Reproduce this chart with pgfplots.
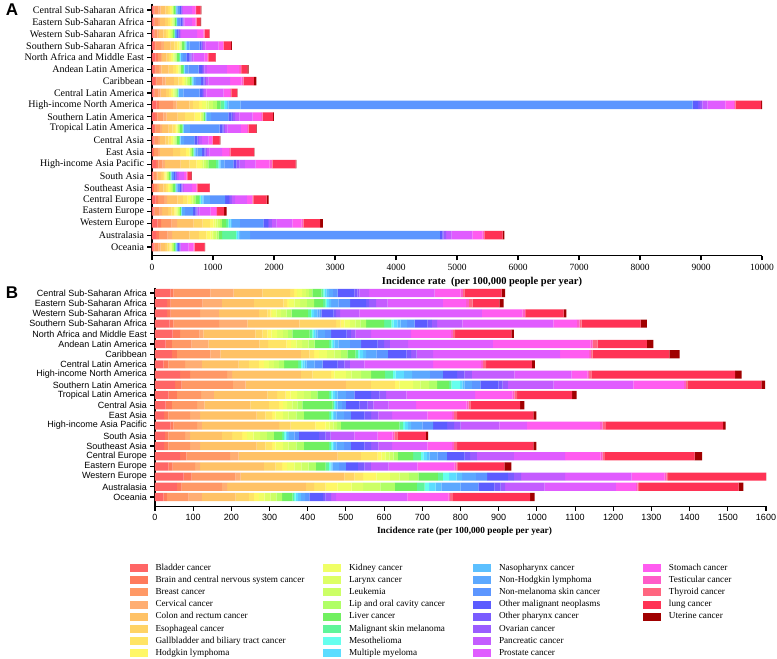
\documentclass[border=0pt]{standalone}
\usepackage{fontspec}
\setmainfont{Liberation Serif}
\newfontfamily\arialfont{Liberation Sans}
\usepackage{pgfplots}
\usepackage{pgfplotstable}
\pgfplotsset{compat=1.18}

\definecolor{c1}{HTML}{FF6666}
\definecolor{c2}{HTML}{FF7B5C}
\definecolor{c3}{HTML}{FF9966}
\definecolor{c4}{HTML}{FFAE73}
\definecolor{c5}{HTML}{FFC266}
\definecolor{c6}{HTML}{FFD366}
\definecolor{c7}{HTML}{FFE466}
\definecolor{c8}{HTML}{FFF766}
\definecolor{c9}{HTML}{F0FF66}
\definecolor{c10}{HTML}{DDFF66}
\definecolor{c11}{HTML}{CCFF66}
\definecolor{c12}{HTML}{B0FF66}
\definecolor{c13}{HTML}{70F060}
\definecolor{c14}{HTML}{60F59A}
\definecolor{c15}{HTML}{66FFEE}
\definecolor{c16}{HTML}{5CDDFF}
\definecolor{c17}{HTML}{5CC0FF}
\definecolor{c18}{HTML}{5CA8FF}
\definecolor{c19}{HTML}{5C96FF}
\definecolor{c20}{HTML}{5C5CFF}
\definecolor{c21}{HTML}{7A5CFF}
\definecolor{c22}{HTML}{9B5CFF}
\definecolor{c23}{HTML}{C45CFF}
\definecolor{c24}{HTML}{E05CFF}
\definecolor{c25}{HTML}{FF5CF0}
\definecolor{c26}{HTML}{FF5CC8}
\definecolor{c27}{HTML}{FF6680}
\definecolor{c28}{HTML}{FF3355}
\definecolor{c29}{HTML}{A00000}

% Panel A: columns c1..c29 = Bladder ... Uterine
\pgfplotstableread{
id c1 c2 c3 c4 c5 c6 c7 c8 c9 c10 c11 c12 c13 c14 c15 c16 c17 c18 c19 c20 c21 c22 c23 c24 c25 c26 c27 c28 c29
0 26 17 64 34 78 44 35 17 11 9 13 10 25 8 2 4 3 17 39 20 7 8 14 152 55 10 3 73 11
1 26 17 57 30 83 46 37 19 13 11 16 14 25 8 2 4 4 17 38 29 9 9 16 127 60 11 3 62 11
2 26 17 46 25 73 41 33 16 18 14 21 18 16 5 2 5 4 13 20 24 8 12 21 260 105 15 3 79 5
3 36 24 88 47 110 61 49 25 13 11 16 14 38 16 6 11 11 40 166 28 10 19 35 217 70 12 4 121 11
4 60 38 46 24 73 41 33 16 18 18 18 17 40 14 4 9 9 27 60 49 16 19 35 174 51 9 7 120 3
5 36 24 55 37 122 68 55 27 13 11 16 14 32 11 4 9 9 55 168 52 18 23 42 326 200 28 17 92 22
6 46 30 95 52 134 75 60 29 24 20 29 25 28 10 5 11 11 36 84 40 14 25 46 352 190 28 8 165 38
7 26 17 64 34 86 48 38 18 18 18 18 17 20 7 3 7 6 70 267 40 14 19 35 283 104 15 11 93 5
8 70 44 230 58 210 60 100 48 70 40 70 64 60 60 15 30 25 200 7410 90 30 40 80 296 140 18 10 416 16
9 52 35 99 53 180 120 160 94 14 12 15 13 20 7 5 6 6 80 283 53 18 38 71 216 140 24 5 168 11
10 36 24 70 38 105 59 47 23 13 11 16 14 40 14 2 5 4 100 487 49 16 23 42 217 106 19 10 115 11
11 26 17 57 30 90 50 41 20 18 18 18 17 40 14 3 6 5 55 170 40 14 25 46 109 55 10 4 110 11
12 20 13 64 33 213 118 95 47 13 11 16 14 20 7 5 11 11 33 76 40 14 25 46 205 111 20 9 380 8
13 62 42 71 38 258 143 115 57 34 27 41 35 123 41 8 15 15 62 145 41 14 48 88 177 230 40 8 377 12
14 13 9 42 23 61 34 27 14 13 11 16 14 20 7 3 7 6 11 27 28 10 15 29 81 47 8 4 66 6
15 20 13 53 28 73 41 33 16 18 14 21 18 28 10 3 7 6 16 38 20 7 13 25 136 69 12 4 203 5
16 60 40 100 50 166 92 74 37 23 18 28 23 60 22 10 22 22 100 253 61 20 29 53 191 82 15 9 219 32
17 26 17 81 44 98 55 44 21 18 16 19 17 16 6 3 7 7 50 128 41 14 19 35 178 89 15 4 116 38
18 90 60 170 93 269 149 119 60 34 27 41 34 70 38 11 22 22 130 386 73 24 42 78 258 150 26 10 272 44
19 68 46 141 76 281 156 125 63 34 27 41 33 60 228 13 26 26 163 3114 41 14 46 90 338 164 29 5 301 27
20 26 17 64 34 73 41 33 16 13 11 16 14 21 7 3 7 6 8 20 20 6 8 14 122 81 14 5 162 7
}\dataA

% Panel B
\pgfplotstableread{
id c1 c2 c3 c4 c5 c6 c7 c8 c9 c10 c11 c12 c13 c14 c15 c16 c17 c18 c19 c20 c21 c22 c23 c24 c25 c26 c27 c28 c29
0 40 8 97 61 75 73 10 8 13 10 8 9 24 5 3 5 7 10 12 44 8 5 26 171 68 6 4 98 9
1 32 9 84 50 84 77 10 5 14 15 18 19 23 7 3 6 5 19 31 42 8 18 30 145 61 7 10 70 11
2 32 9 77 49 105 22 8 5 11 12 15 13 42 8 3 6 8 6 5 32 6 11 50 321 106 7 2 99 7
3 38 10 120 74 136 96 12 10 14 15 13 15 47 19 6 10 8 17 20 33 12 14 66 238 62 7 5 155 16
4 46 20 51 10 136 18 13 11 15 15 13 12 45 7 4 4 5 20 16 41 11 12 41 105 104 5 6 147 7
5 28 16 52 44 133 23 48 12 14 15 17 16 38 6 4 4 10 30 30 43 17 15 48 222 255 6 13 129 17
6 44 13 88 26 211 22 13 13 20 20 17 17 21 6 4 10 8 27 30 48 13 14 43 333 76 5 4 201 27
7 22 13 44 44 96 27 26 13 13 13 14 13 37 7 4 6 5 21 21 39 18 14 38 180 126 5 8 120 8
8 66 26 97 13 180 30 49 9 30 15 25 26 36 21 7 22 21 47 34 37 19 20 111 150 41 5 6 376 17
9 53 17 134 33 263 65 63 12 36 19 23 21 31 6 23 6 5 20 22 47 11 14 120 209 132 5 4 194 10
10 35 22 64 33 140 26 22 13 17 18 18 17 30 6 4 7 6 22 22 44 22 17 53 180 98 5 7 144 12
11 28 16 66 19 121 48 27 10 11 14 13 13 79 4 2 3 4 12 10 35 22 15 40 72 132 5 5 130 11
12 24 11 57 26 148 23 18 9 19 15 20 20 65 6 4 4 6 20 18 35 18 19 36 92 65 5 8 200 8
13 40 8 62 13 202 30 65 27 10 10 10 10 153 10 5 8 8 29 28 37 18 17 102 72 191 7 9 307 6
14 26 9 44 13 83 27 26 13 17 17 18 18 22 5 4 4 5 14 12 53 17 13 62 61 39 5 8 74 6
15 24 11 57 26 148 23 18 9 19 15 20 20 65 6 4 4 6 20 18 35 18 19 36 92 65 5 8 200 8
16 66 16 115 22 259 61 44 10 10 11 11 11 40 20 7 9 7 21 24 47 14 18 97 134 93 5 6 235 20
17 35 11 59 13 167 31 17 13 19 18 19 19 26 8 4 3 3 17 18 31 17 17 47 75 97 5 4 122 18
18 75 21 115 13 272 26 23 35 35 25 25 25 51 13 16 20 14 36 30 54 16 19 115 174 86 5 5 256 10
19 57 13 105 14 206 22 30 31 37 30 45 38 58 20 12 17 15 50 47 42 16 12 103 187 52 5 4 260 13
20 22 9 57 35 88 35 13 13 15 15 16 15 27 4 4 7 7 11 11 36 7 14 13 187 107 5 7 202 12
}\dataB

\pgfplotsset{
  panel/.style={
    scale only axis, xbar stacked, y dir=reverse,
    ytick={0,...,20},
    yticklabels={Central Sub-Saharan Africa, Eastern Sub-Saharan Africa, Western Sub-Saharan Africa, Southern Sub-Saharan Africa, North Africa and Middle East, Andean Latin America, Caribbean, Central Latin America, High-income North America, Southern Latin America, Tropical Latin America, Central Asia, East Asia, High-income Asia Pacific, South Asia, Southeast Asia, Central Europe, Eastern Europe, Western Europe, Australasia, Oceania},
    axis x line*=bottom, axis y line*=left,
    axis line style={line width=1.1pt,-},
    tick align=outside, major tick length=4.5pt,
    tick style={line width=1.1pt,black},
    scaled x ticks=false,
    /pgf/number format/1000 sep={},
    /pgf/number format/assume math mode=true,
    xmin=0,
  }
}

\begin{document}
\begin{tikzpicture}
\path[use as bounding box] (0pt,0pt) rectangle (777pt,-659pt);

\begin{axis}[panel,
  at={(152pt,-3.5pt)}, anchor=north west, width=610pt, height=252.4pt,
  xmax=10000, ymin=-0.55, ymax=20.75, bar width=0.72,
  xtick={0,1000,...,10000},
  yticklabel style={font=\fontsize{10}{11}\selectfont},
  xticklabel style={font=\fontsize{9.5}{11}\selectfont},
  xlabel={\textbf{Incidence rate\ \ (per 100,000 people per year)}},
  xlabel style={font=\fontsize{10.5}{12}\selectfont, xshift=25pt},
]
\pgfplotsinvokeforeach{1,...,29}{
  \addplot[fill=c#1, draw=none] table[x=c#1, y=id]{\dataA};
}
\end{axis}

\begin{axis}[panel,
  at={(155pt,-287.9pt)}, anchor=north west, width=611pt, height=218.3pt,
  xmax=1600, ymin=-0.5, ymax=20.9, bar width=0.8,
  xtick={0,100,...,1600},
  yticklabel style={font=\arialfont\fontsize{9}{10}\selectfont},
  xticklabel style={font=\arialfont\fontsize{9}{10}\selectfont},
  xlabel={\textbf{Incidence rate (per 100,000 people per year)}},
  xlabel style={font=\fontsize{9.3}{10}\selectfont, xshift=4pt},
]
\pgfplotsinvokeforeach{1,...,29}{
  \addplot[fill=c#1, draw=none] table[x=c#1, y=id]{\dataB};
}
\end{axis}

\begin{axis}[at={(129.5pt,-564pt)}, anchor=north west, hide axis, scale only axis,
  width=5pt, height=5pt, xmin=0, xmax=1, ymin=0, ymax=1,
  legend columns=4,
  legend image code/.code={\path[#1] (0pt,-4pt) rectangle (18pt,4pt);},
  legend cell align=left,
  legend style={at={(0,1)}, anchor=north west, draw=none, fill=none,
    inner sep=0pt, outer sep=0pt,
    /tikz/column sep=0pt, /tikz/row sep=3.6pt,
    nodes={inner sep=0pt, text height=6.5pt, text depth=2pt, font=\fontsize{9.2}{10}\selectfont}},
]
\addlegendimage{fill=c1,draw=none}\addlegendentry{\makebox[175.5pt][l]{\hspace{8pt}Bladder cancer}}
\addlegendimage{fill=c9,draw=none}\addlegendentry{\makebox[132pt][l]{\hspace{8pt}Kidney cancer}}
\addlegendimage{fill=c17,draw=none}\addlegendentry{\makebox[152pt][l]{\hspace{8pt}Nasopharynx cancer}}
\addlegendimage{fill=c25,draw=none}\addlegendentry{\makebox[100pt][l]{\hspace{8pt}Stomach cancer}}
\addlegendimage{fill=c2,draw=none}\addlegendentry{\makebox[175.5pt][l]{\hspace{8pt}Brain and central nervous system cancer}}
\addlegendimage{fill=c10,draw=none}\addlegendentry{\makebox[132pt][l]{\hspace{8pt}Larynx cancer}}
\addlegendimage{fill=c18,draw=none}\addlegendentry{\makebox[152pt][l]{\hspace{8pt}Non-Hodgkin lymphoma}}
\addlegendimage{fill=c26,draw=none}\addlegendentry{\makebox[100pt][l]{\hspace{8pt}Testicular cancer}}
\addlegendimage{fill=c3,draw=none}\addlegendentry{\makebox[175.5pt][l]{\hspace{8pt}Breast cancer}}
\addlegendimage{fill=c11,draw=none}\addlegendentry{\makebox[132pt][l]{\hspace{8pt}Leukemia}}
\addlegendimage{fill=c19,draw=none}\addlegendentry{\makebox[152pt][l]{\hspace{8pt}Non-melanoma skin cancer}}
\addlegendimage{fill=c27,draw=none}\addlegendentry{\makebox[100pt][l]{\hspace{8pt}Thyroid cancer}}
\addlegendimage{fill=c4,draw=none}\addlegendentry{\makebox[175.5pt][l]{\hspace{8pt}Cervical cancer}}
\addlegendimage{fill=c12,draw=none}\addlegendentry{\makebox[132pt][l]{\hspace{8pt}Lip and oral cavity cancer}}
\addlegendimage{fill=c20,draw=none}\addlegendentry{\makebox[152pt][l]{\hspace{8pt}Other malignant neoplasms}}
\addlegendimage{fill=c28,draw=none}\addlegendentry{\makebox[100pt][l]{\hspace{8pt}lung cancer}}
\addlegendimage{fill=c5,draw=none}\addlegendentry{\makebox[175.5pt][l]{\hspace{8pt}Colon and rectum cancer}}
\addlegendimage{fill=c13,draw=none}\addlegendentry{\makebox[132pt][l]{\hspace{8pt}Liver cancer}}
\addlegendimage{fill=c21,draw=none}\addlegendentry{\makebox[152pt][l]{\hspace{8pt}Other pharynx cancer}}
\addlegendimage{fill=c29,draw=none}\addlegendentry{\makebox[100pt][l]{\hspace{8pt}Uterine cancer}}
\addlegendimage{fill=c6,draw=none}\addlegendentry{\makebox[175.5pt][l]{\hspace{8pt}Esophageal cancer}}
\addlegendimage{fill=c14,draw=none}\addlegendentry{\makebox[132pt][l]{\hspace{8pt}Malignant skin melanoma}}
\addlegendimage{fill=c22,draw=none}\addlegendentry{\makebox[152pt][l]{\hspace{8pt}Ovarian cancer}}
\addlegendimage{draw=none,fill=none}\addlegendentry{}
\addlegendimage{fill=c7,draw=none}\addlegendentry{\makebox[175.5pt][l]{\hspace{8pt}Gallbladder and biliary tract cancer}}
\addlegendimage{fill=c15,draw=none}\addlegendentry{\makebox[132pt][l]{\hspace{8pt}Mesothelioma}}
\addlegendimage{fill=c23,draw=none}\addlegendentry{\makebox[152pt][l]{\hspace{8pt}Pancreatic cancer}}
\addlegendimage{draw=none,fill=none}\addlegendentry{}
\addlegendimage{fill=c8,draw=none}\addlegendentry{\makebox[175.5pt][l]{\hspace{8pt}Hodgkin lymphoma}}
\addlegendimage{fill=c16,draw=none}\addlegendentry{\makebox[132pt][l]{\hspace{8pt}Multiple myeloma}}
\addlegendimage{fill=c24,draw=none}\addlegendentry{\makebox[152pt][l]{\hspace{8pt}Prostate cancer}}
\end{axis}

\node[font=\arialfont\bfseries\fontsize{17}{17}\selectfont] at (12pt,-10pt) {A};
\node[font=\arialfont\bfseries\fontsize{17}{17}\selectfont] at (12pt,-293pt) {B};
\end{tikzpicture}
\end{document}
